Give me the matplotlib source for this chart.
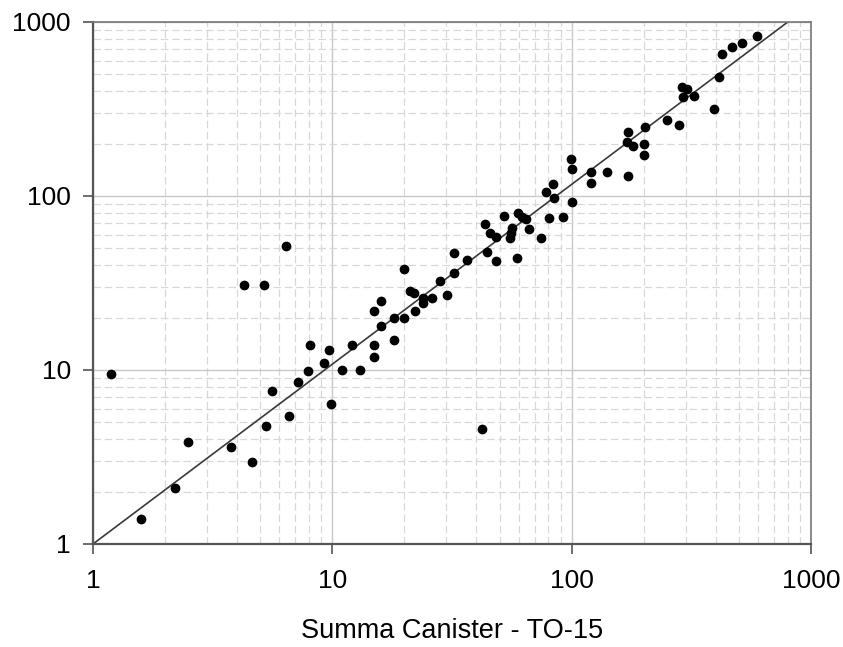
import matplotlib
matplotlib.use("Agg")
import matplotlib.pyplot as plt
from matplotlib.ticker import LogLocator, NullFormatter, FixedLocator, FixedFormatter

plt.rcParams['font.family'] = ['Liberation Sans', 'DejaVu Sans']

# Summa canister (TO-15) vs. comparison method, paired values
canister = [1.19, 1.59, 2.20, 2.50, 3.79, 4.60, 5.28, 5.61, 6.59, 7.21,
            7.88, 8.07, 6.42, 4.28, 5.19, 20.0, 21.1, 21.9, 16.0, 14.9,
            22.1, 18.1, 20.0, 16.0, 18.1, 9.71, 12.1, 14.9, 14.9, 9.20,
            11.0, 13.1, 9.9, 99.7, 100.4, 121, 121, 83.5, 78.4, 84.7,
            100.4, 92.3, 80.7, 74.7, 52.4, 59.8, 62.2, 64.2, 66.3, 56.5,
            55.6, 55.2, 43.3, 45.8, 48.1, 44.1, 48.4, 59.3, 32.2, 36.4,
            32.2, 28.1, 30.2, 24.0, 24.0, 26.1, 140, 172, 172, 171,
            181, 202, 200, 200, 251, 282, 290, 303, 292, 323,
            394, 413, 423, 466, 516, 594, 42.4]
other = [9.45, 1.39, 2.11, 3.87, 3.59, 2.97, 4.77, 7.57, 5.46, 8.57,
         9.91, 13.9, 51.8, 30.8, 30.8, 37.9, 28.6, 27.8, 24.9, 21.9,
         21.9, 20.0, 20.0, 17.9, 14.9, 13.0, 13.9, 13.9, 11.9, 10.9,
         9.95, 9.95, 6.40, 164, 143, 138, 119, 117, 106, 97.4,
         92.0, 76.1, 74.5, 57.6, 76.7, 79.5, 75.4, 73.5, 64.6, 65.2,
         61.0, 57.1, 68.8, 61.0, 58.4, 47.9, 42.5, 44.2, 46.9, 42.9,
         35.9, 32.6, 27.0, 25.8, 24.2, 25.8, 137, 130, 234, 205,
         194, 248, 199, 172, 273, 257, 421, 412, 369, 374,
         315, 481, 652, 721, 754, 834, 4.58]

fit_x = [1, 800]
fit_y = [1, 1000]

ticks = [1, 10, 100, 1000]
tick_labels = ["1", "10", "100", "1000"]

fig = plt.figure(figsize=(8.43, 6.47), dpi=100)
ax = fig.add_axes([0.1103, 0.1592, 0.8517, 0.8068])

ax.set_xscale("log")
ax.set_yscale("log")
ax.set_xlim(1, 1000)
ax.set_ylim(1, 1000)

for axis in (ax.xaxis, ax.yaxis):
    axis.set_major_locator(FixedLocator(ticks))
    axis.set_major_formatter(FixedFormatter(tick_labels))
    axis.set_minor_locator(LogLocator(base=10, subs=range(2, 10)))
    axis.set_minor_formatter(NullFormatter())

ax.grid(True, which="major", color="#c8c8c8", linewidth=1.0, linestyle="-")
ax.grid(True, which="minor", color="#d8d8d8", linewidth=0.9, linestyle=(0, (6, 3)))
ax.set_axisbelow(True)

ax.plot(fit_x, fit_y, color="#3a3a3a", linewidth=1.2, zorder=2)
ax.scatter(canister, other, s=36, color="black", zorder=3, clip_on=False)

for side in ("left", "bottom"):
    ax.spines[side].set_color("#555555")
    ax.spines[side].set_linewidth(1.6)
for side in ("top", "right"):
    ax.spines[side].set_color("#777777")
    ax.spines[side].set_linewidth(1.2)

ax.tick_params(which="major", direction="out", length=7, width=1.2,
               color="#555555", labelsize=19, pad=11)
ax.tick_params(which="minor", length=0)
ax.tick_params(axis="y", pad=9)

ax.set_xlabel("Summa Canister - TO-15", fontsize=19.5, labelpad=18)

fig.savefig("out.png", dpi=100)
